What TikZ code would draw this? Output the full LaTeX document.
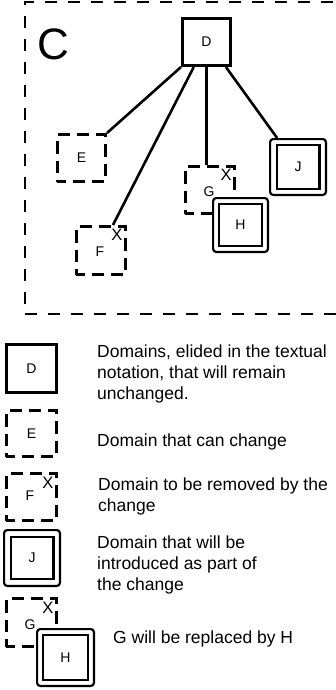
\documentclass[tikz,border=0pt]{standalone}
\usepackage{fontspec}
\setmainfont{Liberation Sans}
\usetikzlibrary{calc}
\begin{document}
\begin{tikzpicture}[x=1pt,y=-1pt,
  solidbox/.style={draw, line width=2.8pt, inner sep=0pt, minimum width=48.2pt, minimum height=47.2pt, font=\fontsize{14}{15}\selectfont},
  dashbox/.style={solidbox, dash pattern=on 12.3pt off 7pt, dash phase=4pt},
  frame/.style={draw, line width=2.8pt, inner sep=0pt, dash pattern=on 12pt off 11pt},
  newout/.style={draw, line width=2.2pt, rounded corners=3pt, fill=white, inner sep=0pt},
  newin/.style={draw, line width=2.2pt, inner sep=0pt, font=\fontsize{14}{15}\selectfont},
  xmark/.style={inner sep=0pt, font=\fontsize{16.5}{18}\selectfont},
  link/.style={line width=2.6pt},
  legtext/.style={anchor=base west, align=left, inner sep=0pt, font=\fontsize{17.5}{20.7}\selectfont},
]
\useasboundingbox (0,0) rectangle (335,690);

% container
\node[frame, minimum width=320pt, minimum height=312pt] (Cbox) at (185,158) {};
\node[anchor=base west, inner sep=0pt, font=\fontsize{44}{50}\selectfont] (Clabel) at (37,60) {C};

% domains
\node[solidbox] (D) at (206.5,42) {D};
\node[dashbox] (E) at (81.5,158) {E};
\node[dashbox, minimum width=49.2pt, minimum height=48.2pt] (F) at (101,250.5) {};
\node[inner sep=0pt, font=\fontsize{14}{15}\selectfont] (Flabel) at (100,252) {F};
\node[xmark] (FX) at (117,235) {X};
\node[dashbox, minimum width=49.2pt] (G) at (210,190) {};
\node[inner sep=0pt, font=\fontsize{14}{15}\selectfont] (Glabel) at (209,192) {G};
\node[xmark] (GX) at (226,175) {X};
\node[newout, minimum width=55.8pt, minimum height=55.8pt] (J) at (298,167) {};
\node[newin, minimum width=42.8pt, minimum height=43.8pt] (Jin) at (J) {J};

% connectors
\draw[link] (D.south west) -- (E.north east);
\draw[link] ($(D.south west)!0.25!(D.south east)$) -- ($(F.north west)!0.73!(F.north east)$);
\draw[link] (D.south) -- (D.south |- G.north);
\draw[link] ($(D.south west)!0.88!(D.south east)$) -- ($(J.north west)!0.14!(J.north east)$);

\node[newout, minimum width=54.8pt, minimum height=53.8pt] (H) at (240.5,225) {};
\node[newin, minimum width=42.8pt, minimum height=41.8pt] (Hin) at (H) {H};

% legend
\node[solidbox, minimum width=50.2pt, minimum height=48.2pt] (LD) at (31.5,368.5) {D};
\node[legtext] (TD) at (97,399) {Domains, elided in the textual\\notation, that will remain\\unchanged.};

\node[dashbox, minimum width=50.2pt, minimum height=46.2pt] (LE) at (31.5,433.5) {E};
\node[legtext] (TE) at (97,446) {Domain that can change};

\node[dashbox, minimum width=50.2pt, minimum height=47.2pt] (LF) at (31.5,497) {};
\node[inner sep=0pt, font=\fontsize{14}{15}\selectfont] (LFlabel) at (30,496) {F};
\node[xmark] (LFX) at (48,483) {X};
\node[legtext] (TF) at (98,511) {Domain to be removed by the\\change};

\node[newout, minimum width=55.8pt, minimum height=55.8pt] (LJ) at (32,558) {};
\node[newin, minimum width=42.8pt, minimum height=41.8pt] (LJin) at (LJ) {J};
\node[legtext] (TJ) at (97,590) {Domain that will be\\introduced as part of\\the change};

\node[dashbox, minimum width=50.2pt, minimum height=48.2pt] (LG) at (31.5,622.5) {};
\node[inner sep=0pt, font=\fontsize{14}{15}\selectfont] (LGlabel) at (30,625) {G};
\node[xmark] (LGX) at (48,608) {X};
\node[newout, minimum width=56.8pt, minimum height=56.8pt] (LH) at (65.5,657.5) {};
\node[newin, minimum width=44.8pt, minimum height=44.8pt] (LHin) at (LH) {H};
\node[legtext] (TG) at (113,643) {G will be replaced by H};
\end{tikzpicture}
\end{document}
